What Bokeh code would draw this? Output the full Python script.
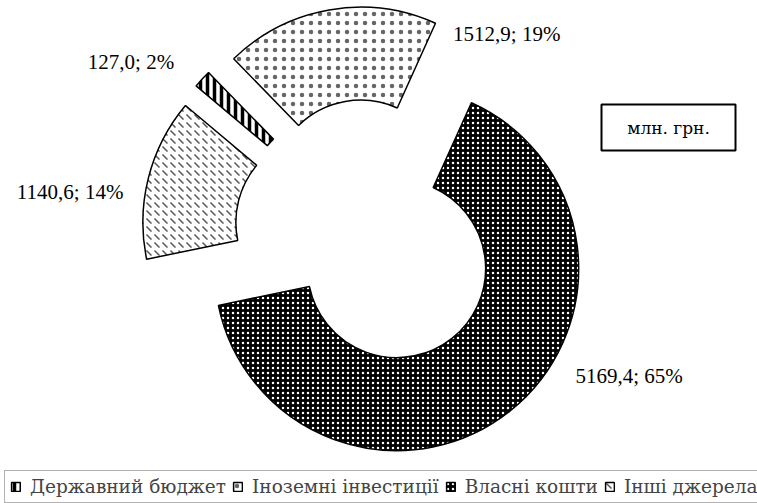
import math
from bokeh.plotting import figure
from bokeh.models import ColumnDataSource, Range1d, Legend, LegendItem
from bokeh.core.properties import value
from bokeh.embed import file_html
from bokeh.resources import INLINE

# ---- data ----
categories = ["Державний бюджет", "Іноземні інвестиції", "Власні кошти", "Інші джерела"]
values = [127.0, 1512.9, 5169.4, 1140.6]
unit_label = "млн. грн."

# ---- layout / style ----
W, H = 757, 503
CX, CY = 368, 270          # pie centre (screen px, y up)
R_OUT, R_IN = 182, 89
EXPLODE = 45
FIRST_ANGLE = 310          # clockwise from 12 o'clock
FONT = "Liberation Serif"
FONT_CYR = "DejaVu Serif"

fills = ["white", "white", "black", "white"]
hatches = ["vertical_line", "dot", "dot", "left_diagonal_dash"]
hatch_colors = ["black", "#666666", "white", "#555555"]
hatch_scales = [7, 9, 5, 8]
hatch_weights = [3.5, 2, 1.2, 1.5]
# label offsets relative to the outer point on each slice bisector (px, y down), and alignment
label_offsets = [(-28, -17, "right"), (124, 24, "left"), (65, -35, "left"), (-25, 14, "right")]

total = sum(values)
xs, ys, starts, ends, lx, ly, ltxt, lalign = [], [], [], [], [], [], [], []
theta = FIRST_ANGLE
for i, v in enumerate(values):
    span = v / total * 360.0
    t1, t2 = theta, theta + span
    tm = math.radians((t1 + t2) / 2)
    ox = CX + EXPLODE * math.sin(tm)
    oy = CY + EXPLODE * math.cos(tm)
    xs.append(ox)
    ys.append(oy)
    starts.append(math.radians(90 - t2))
    ends.append(math.radians(90 - t1))
    px = ox + R_OUT * math.sin(tm)
    py = oy + R_OUT * math.cos(tm)
    dx, dy, al = label_offsets[i]
    lx.append(px + dx)
    ly.append(py - dy)
    lalign.append(al)
    ltxt.append(f"{v:.1f}".replace(".", ",") + f"; {round(v / total * 100)}%")
    theta = t2

src = ColumnDataSource(dict(x=xs, y=ys, start=starts, end=ends, fill=fills,
                            hatch=hatches, hcol=hatch_colors, hscale=hatch_scales,
                            hweight=hatch_weights, cat=categories))
lsrc = ColumnDataSource(dict(x=lx, y=ly, text=ltxt, align=lalign))

p = figure(width=W, height=H, x_range=Range1d(0, W), y_range=Range1d(0, H),
           output_backend="svg", toolbar_location=None, min_border=0,
           x_axis_location=None, y_axis_location=None)
p.grid.visible = False
p.outline_line_color = None
p.background_fill_color = "white"
p.border_fill_color = "white"

r = p.annular_wedge(x="x", y="y", inner_radius=R_IN, outer_radius=R_OUT,
                    start_angle="start", end_angle="end", direction="anticlock",
                    fill_color="fill", line_color="black", line_width=1.5,
                    hatch_pattern="hatch", hatch_color="hcol", hatch_scale="hscale",
                    hatch_weight="hweight", source=src)

p.text(x="x", y="y", text="text", text_align="align", text_baseline="middle",
       text_font=value(FONT), text_font_size="21px", text_color="black", source=lsrc)

# unit box
p.rect(x=[668], y=[376], width=134, height=46, fill_color="white",
       line_color="black", line_width=2)
p.text(x=[668], y=[376], text=[unit_label], text_align="center", text_baseline="middle",
       text_font=value(FONT_CYR), text_font_size="17px", text_color="black")

items = [LegendItem(label=c, renderers=[r], index=i) for i, c in enumerate(categories)]
legend = Legend(items=items, orientation="horizontal", location=(4, 0),
                label_text_font=FONT_CYR, label_text_font_size="18.5px",
                glyph_width=11, glyph_height=11, label_standoff=9, spacing=6,
                padding=5, margin=0, border_line_color="#666666", border_line_width=1.5,
                background_fill_alpha=1)
p.add_layout(legend)

open("out.html", "w").write(file_html(p, INLINE))
